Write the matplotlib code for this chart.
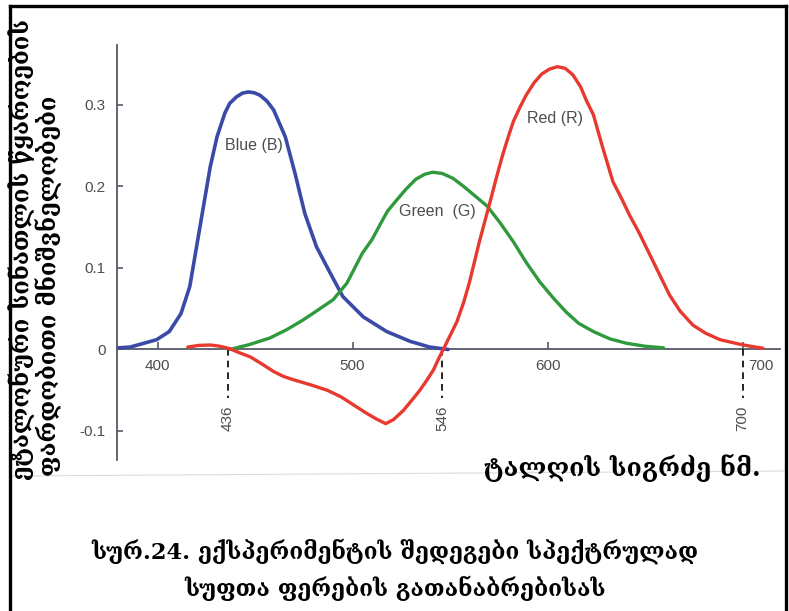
import matplotlib
matplotlib.use("Agg")
import matplotlib.pyplot as plt
from matplotlib.lines import Line2D
from matplotlib.patches import Rectangle
from matplotlib.transforms import ScaledTranslation

# ---- data (wavelength nm, relative value) ----
blue_nm = [380, 386, 399.5, 406, 412, 416.5, 420, 423.5, 427, 430.5, 434.5, 437,
           440.5, 443.5, 446.5, 449.5, 452.5, 456, 459.5, 465.5, 470.5, 475.5,
           481.5, 488.5, 495, 505.5, 517.5, 529.5, 539.5, 549]
blue_val = [0.002, 0.003, 0.012, 0.022, 0.044, 0.077, 0.126, 0.175, 0.224, 0.261,
            0.290, 0.302, 0.310, 0.3145, 0.316, 0.315, 0.312, 0.305, 0.294, 0.261,
            0.216, 0.167, 0.126, 0.094, 0.065, 0.040, 0.022, 0.010, 0.003, 0.0]

green_nm = [437, 447, 457.5, 466, 474.5, 482, 490, 493.5, 497, 505, 510, 514.5,
            518, 522.5, 527.5, 532.5, 537, 541, 546, 551.5, 557, 563, 569, 575.5,
            582.5, 589, 596, 603, 609.5, 616, 623.5, 632, 640.5, 650, 659.5]
green_val = [0.0, 0.006, 0.014, 0.024, 0.036, 0.048, 0.061, 0.071, 0.081, 0.118,
             0.135, 0.155, 0.170, 0.183, 0.197, 0.209, 0.215, 0.2175, 0.216, 0.210,
             0.200, 0.188, 0.176, 0.156, 0.132, 0.107, 0.083, 0.063, 0.046, 0.032,
             0.022, 0.013, 0.0076, 0.004, 0.002]

red_nm = [415.5, 421, 427, 432, 437, 442, 447.5, 453, 459.5, 464.5, 469.5, 478,
          487, 494, 500.5, 507, 512, 517, 521, 526, 530.5, 534.5, 538, 541.5, 544,
          546.5, 550, 553.5, 557, 560, 565, 570.5, 574, 577, 580, 582.5, 586, 589,
          593, 597, 601, 605, 609, 613, 617, 620, 623.5, 628, 633.5, 638, 642, 647,
          652.5, 657, 662.5, 668, 674.5, 681, 688.5, 694, 698.5, 704, 710.5]
red_val = [0.003, 0.005, 0.0055, 0.004, 0.001, -0.004, -0.009, -0.017, -0.027,
           -0.033, -0.037, -0.043, -0.050, -0.058, -0.068, -0.078, -0.085, -0.091,
           -0.086, -0.075, -0.062, -0.050, -0.038, -0.025, -0.012, 0.0, 0.017,
           0.034, 0.058, 0.083, 0.132, 0.181, 0.213, 0.239, 0.262, 0.280, 0.298,
           0.312, 0.327, 0.338, 0.344, 0.347, 0.345, 0.337, 0.322, 0.305, 0.288,
           0.250, 0.206, 0.185, 0.165, 0.143, 0.116, 0.094, 0.067, 0.047, 0.030,
           0.020, 0.012, 0.009, 0.0065, 0.004, 0.0015]

x_ticks = [400, 500, 600, 700]
y_ticks = [-0.1, 0, 0.1, 0.2, 0.3]
y_tick_labels = ["-0.1", "0", "0.1", "0.2", "0.3"]
marked_nm = [436, 546, 700]

curve_labels = [("Blue (B)", 449.4, 0.250),
                ("Green  (G)", 543.4, 0.169),
                ("Red (R)", 603.7, 0.284)]

y_label_outer = "ეტალონური სინათლის წყაროების"
y_label_inner = "ფარდობითი მნიშვნელობები"
x_label = "ტალღის სიგრძე ნმ."
caption_1 = "სურ.24. ექსპერიმენტის შედეგები სპექტრულად"
caption_2 = "სუფთა ფერების გათანაბრებისას"

W, H = 789, 611
fig = plt.figure(figsize=(W / 100, H / 100), dpi=100)


def fx(px):
    return px / W


def fy(py):
    return 1 - py / H


# axes placed so that the plot area matches the scan
ax = fig.add_axes([fx(117), fy(460), fx(780) - fx(117), fy(45) - fy(460)])
ax.set_xlim(379.2, 719.2)
ax.set_ylim(-0.1356, 0.3736)
ax.patch.set_alpha(0)

axis_col = "#555a66"
for s in ["top", "right"]:
    ax.spines[s].set_visible(False)
ax.spines["left"].set_color(axis_col)
ax.spines["left"].set_linewidth(1.3)
ax.spines["bottom"].set_position(("data", 0))
ax.spines["bottom"].set_color(axis_col)
ax.spines["bottom"].set_linewidth(1.3)
ax.spines["bottom"].set_zorder(1)

tick_font = {"family": "Liberation Sans", "size": 11}
ax.set_xticks(x_ticks)
ax.set_xticklabels([str(t) for t in x_ticks], fontdict=tick_font, color="#4d4d4d")
ax.set_yticks(y_ticks)
ax.set_yticklabels(y_tick_labels, fontdict=tick_font, color="#4d4d4d")
ax.tick_params(axis="x", direction="in", length=5, width=1.2, color=axis_col, pad=7)
ax.tick_params(axis="y", direction="in", length=4, width=1.2, color=axis_col, pad=8)
# the 700 label sits to the right of its dashed line
lbl = ax.get_xticklabels()[-1]
lbl.set_transform(lbl.get_transform() + ScaledTranslation(0.18, 0, fig.dpi_scale_trans))

ax.plot(blue_nm, blue_val, color="#3a4aa6", lw=2.6, solid_joinstyle="round",
        solid_capstyle="round", zorder=3)
ax.plot(green_nm, green_val, color="#2f9a3c", lw=2.4, solid_joinstyle="round",
        solid_capstyle="round", zorder=3)
ax.plot(red_nm, red_val, color="#e8392f", lw=2.4, solid_joinstyle="round",
        solid_capstyle="round", zorder=4)

for txt, xv, yv in curve_labels:
    ax.text(xv, yv, txt, ha="center", va="center", color="#4d4d4d",
            family="Liberation Sans", fontsize=11.5, zorder=5)

for nm in marked_nm:
    ax.plot([nm, nm], [0, -0.0595], color="black", lw=1.2, ls=(0, (4, 3)), zorder=2)
    ax.text(nm, -0.084, str(nm), rotation=90, ha="center", va="center",
            color="#4d4d4d", family="Liberation Sans", fontsize=11)

geo_font = "DejaVu Serif"
fig.text(fx(22), fy(480), y_label_outer, rotation=90, ha="center", va="bottom",
         family=geo_font, fontweight="bold", fontsize=17)
fig.text(fx(49), fy(476), y_label_inner, rotation=90, ha="center", va="bottom",
         family=geo_font, fontweight="bold", fontsize=17)
fig.text(fx(622), fy(468), x_label, ha="center", va="center",
         family=geo_font, fontweight="bold", fontsize=18)
fig.text(fx(395), fy(551), caption_1, ha="center", va="center",
         family=geo_font, fontweight="bold", fontsize=16.3)
fig.text(fx(395), fy(588), caption_2, ha="center", va="center",
         family=geo_font, fontweight="bold", fontsize=16.3)

# scan frame: white strip above the top border, then the black border
fig.add_artist(Rectangle((0, fy(5)), 1, 1 - fy(5), transform=fig.transFigure,
                         facecolor="white", edgecolor="none", zorder=10))
frame = dict(color="black", lw=2.4, zorder=11, transform=fig.transFigure)
fig.add_artist(Line2D([fx(10), fx(786)], [fy(6), fy(6)], **frame))
fig.add_artist(Line2D([fx(10), fx(10)], [fy(6), 0], **frame))
fig.add_artist(Line2D([fx(786), fx(786)], [fy(6), 0], **frame))
fig.add_artist(Line2D([fx(12), fx(784)], [fy(476), fy(471)], color="#dcdcdc",
                      lw=0.8, zorder=0, transform=fig.transFigure))

fig.savefig("out.png", dpi=100)
